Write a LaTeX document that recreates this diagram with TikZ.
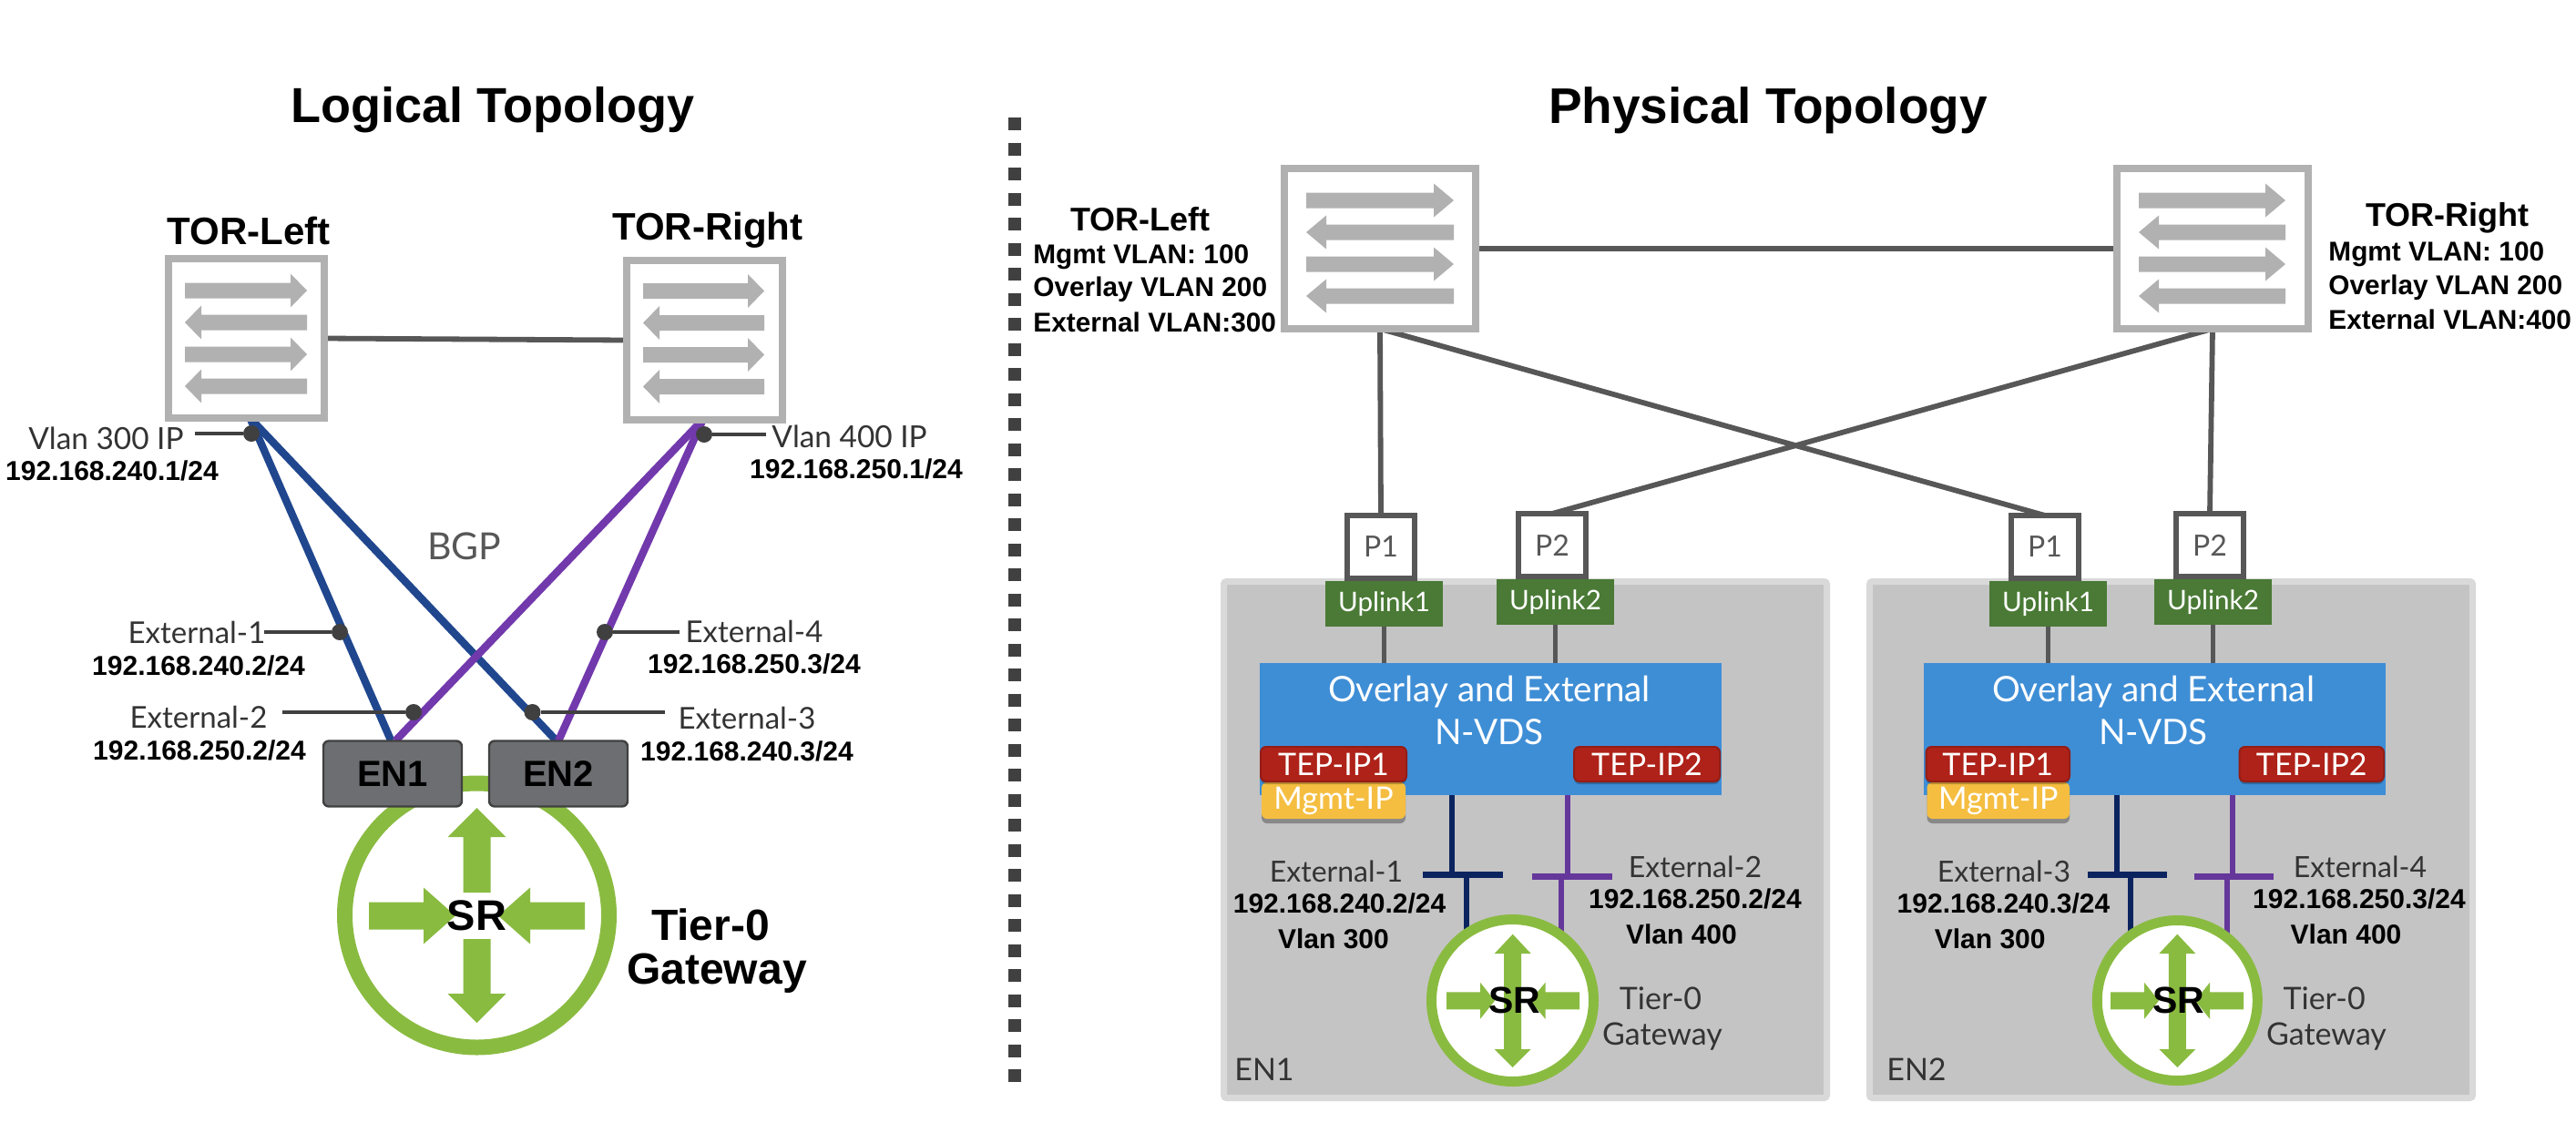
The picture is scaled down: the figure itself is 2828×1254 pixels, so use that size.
\documentclass[tikz,border=0pt]{standalone}
\usepackage{fontspec}
\setmainfont{Lato}
\newfontfamily\arialb{Liberation Sans}[BoldFont={* Bold}]
\usetikzlibrary{shadows}
\pgfdeclarelayer{back}
\pgfdeclarelayer{links}
\pgfsetlayers{back,links,main}
\definecolor{swgrey}{HTML}{B1B1B1}
\definecolor{linkgrey}{HTML}{575757}
\definecolor{dotgrey}{HTML}{404040}
\definecolor{blueln}{HTML}{20478E}
\definecolor{purpleln}{HTML}{7239AC}
\definecolor{navyln}{HTML}{0B2460}
\definecolor{purple2}{HTML}{65379B}
\definecolor{srgreen}{HTML}{8ABB41}
\definecolor{upgreen}{HTML}{4A7A36}
\definecolor{nvdsblue}{HTML}{3E8ED6}
\definecolor{tepred}{HTML}{AE2219}
\definecolor{mgmtyel}{HTML}{F5BE41}
\definecolor{enfill}{HTML}{6D6E72}
\definecolor{boxfill}{HTML}{C4C4C4}
\definecolor{boxedge}{HTML}{D9D9D9}
\definecolor{regtext}{HTML}{333333}
\tikzset{
  bt/.style={inner sep=0pt,font=\arialb\bfseries\fontsize{#1}{#1}\selectfont,text=black},
  rt/.style={inner sep=0pt,font=\fontsize{#1}{#1}\selectfont,text=regtext},
  wt/.style={inner sep=0pt,font=\fontsize{#1}{#1}\selectfont,text=white},
  ip/.style={bt=15},
  sw/.style={rectangle,draw=swgrey,line width=4.2pt,fill=white,inner sep=0pt,outer sep=0pt},
  enbox/.style={rectangle,rounded corners=3pt,draw=dotgrey,line width=1.2pt,fill=enfill,inner sep=0pt,outer sep=0pt,bt=20},
  srring/.style={circle,draw=srgreen,fill=white,inner sep=0pt,outer sep=0pt,drop shadow={shadow xshift=0pt,shadow yshift=-1.5pt,opacity=.25,fill=black}},
  hostbox/.style={rectangle,rounded corners=1.5pt,draw=boxedge,line width=3.5pt,fill=boxfill,inner sep=0pt,outer sep=0pt},
  uplink/.style={rectangle,fill=upgreen,inner sep=0pt,outer sep=0pt,wt=14.8},
  portbox/.style={rectangle,draw=linkgrey,line width=2.9pt,fill=white,inner sep=0pt,outer sep=0pt,rt=16,text=linkgrey},
  nvds/.style={rectangle,fill=nvdsblue,inner sep=0pt,outer sep=0pt},
  tep/.style={rectangle,rounded corners=3pt,draw=tepred!85!black,line width=1pt,fill=tepred,inner sep=0pt,outer sep=0pt,wt=17,drop shadow={shadow xshift=0pt,shadow yshift=-1.5pt,opacity=.25,fill=black}},
  mgmt/.style={rectangle,rounded corners=3pt,fill=mgmtyel,inner sep=0pt,outer sep=0pt,wt=17,drop shadow={shadow xshift=0pt,shadow yshift=-2.5pt,opacity=.3,fill=black}},
  dotnode/.style={circle,fill=dotgrey,inner sep=0pt,outer sep=0pt,minimum size=9pt},
  link/.style={draw=linkgrey,line width=2.9pt},
  stub/.style={draw=dotgrey,line width=2.4pt},
  bluel/.style={draw=blueln,line width=4.2pt},
  purpl/.style={draw=purpleln,line width=4.2pt},
}
% box from corner to corner (picture pixels)
\newcommand{\bx}[6]{\node[#6,minimum width={(#4-#2)*0.5pt},minimum height={(#5-#3)*0.5pt}] (#1) at ({(#2+#4)/2},{(#3+#5)/2})}
\newcommand{\harr}[7][]{\fill[#7] (#2,{#5-#6}) -- (#3,{#5-#6}) -- (#3,{#5-#1}) -- (#4,#5) -- (#3,{#5+#1}) -- (#3,{#5+#6}) -- (#2,{#5+#6}) -- cycle;}
\newcommand{\varr}[7][]{\fill[#7] ({#5-#6},#2) -- ({#5-#6},#3) -- ({#5-#1},#3) -- (#5,#4) -- ({#5+#1},#3) -- ({#5+#6},#3) -- ({#5+#6},#2) -- cycle;}
% four arrows of a switch: x left, x right, head length
\newcommand{\swarrows}[5]{%
  \pgfmathsetmacro{\xa}{#1+#3}\pgfmathsetmacro{\xb}{#2-#3}%
  \harr[18.5]{#1}{\xb}{#2}{#4}{8.5}{swgrey}
  \harr[18.5]{#2}{\xa}{#1}{#4+#5}{8.5}{swgrey}
  \harr[18.5]{#1}{\xb}{#2}{#4+2*#5}{8.5}{swgrey}
  \harr[18.5]{#2}{\xa}{#1}{#4+3*#5}{8.5}{swgrey}
}
\begin{document}
\begin{tikzpicture}[x=0.5pt,y=-0.5pt]
\useasboundingbox (0,0) rectangle (2828,1254);
% ---------------- titles / divider
\node[bt=27] (t1) at (541,121) {Logical Topology};
\node[bt=27.5] (t2) at (1941,121) {Physical Topology};
\coordinate (divtop) at (1114,129);
\coordinate (divbot) at (1114,1188);
\draw[draw=dotgrey,line width=7pt,dash pattern=on 7pt off 6.75pt] (divtop) -- (divbot);
% ---------------- LOGICAL
\node[bt=21] (ltl) at (273,253) {TOR-Left};
\node[bt=21] (ltr) at (777,253) {TOR-Right};
\bx{lsw1}{185}{284}{356}{459}{sw} {};
\bx{lsw2}{688}{286}{859}{461}{sw} {};
\swarrows{203}{337}{18}{319}{35}
\swarrows{706}{839}{18}{319.5}{35}
\begin{pgfonlayer}{links}
\draw[link] (lsw1.east) -- (lsw2.west);
\end{pgfonlayer}
\node[srring,line width=8.5pt,minimum size=145pt] (lsr) at (523.5,1005) {};
\bx{en1}{355}{813.5}{507}{885.5}{enbox} {EN1};
\bx{en2}{537}{813.5}{689}{885.5}{enbox} {EN2};
\varr[32]{980}{919}{887}{523.5}{15}{srgreen}
\varr[32]{1031}{1091}{1123}{523.5}{15}{srgreen}
\harr[31]{405}{465}{500}{1005.5}{15}{srgreen}
\harr[31]{642}{582}{547}{1005.5}{15}{srgreen}
\node[bt=23.5] (lsrt) at (523.5,1005) {SR};
\node[bt=24] (lt0) at (780,1015) {Tier-0};
\node[bt=24] (lgw) at (787,1069) {Gateway};
\node[rt=20.5,text=linkgrey] (bgp) at (510,600) {BGP};
\begin{pgfonlayer}{links}
\draw[bluel] ([xshift=2pt]lsw1.south) -- ([xshift=-0.8pt]en1.north);
\draw[bluel] ([xshift=2pt]lsw1.south) -- ([xshift=-1pt]en2.north);
\draw[purpl] ([xshift=-1pt]lsw2.south) -- ([xshift=1.5pt]en1.north);
\draw[purpl] ([xshift=-1pt]lsw2.south) -- (en2.north);
\end{pgfonlayer}
\node[dotnode] (d1) at (276,476) {};
\node[dotnode] (d2) at (773,477) {};
\node[dotnode] (d3) at (373,694) {};
\node[dotnode] (d4) at (664,694) {};
\node[dotnode] (d5) at (454,782) {};
\node[dotnode] (d6) at (584.5,782) {};
\coordinate (e1) at (214,476);
\coordinate (e2) at (841,477);
\coordinate (e3) at (290,694);
\coordinate (e4) at (746,694);
\coordinate (e5) at (309.5,782);
\coordinate (e6) at (730,782);
\draw[stub] (d1) -- (e1);
\draw[stub] (d2) -- (e2);
\draw[stub] (d3) -- (e3);
\draw[stub] (d4) -- (e4);
\draw[stub] (d5) -- (e5);
\draw[stub] (d6) -- (e6);
\node[rt=16.7] (a1) at (116.5,481) {Vlan 300 IP};
\node[ip] (a2) at (123,517) {192.168.240.1/24};
\node[rt=16.7] (a3) at (932.6,479) {Vlan 400 IP};
\node[ip] (a4) at (940,515) {192.168.250.1/24};
\node[rt=16.5] (a5) at (216,694) {External-1};
\node[ip] (a6) at (218,731) {192.168.240.2/24};
\node[rt=16.5] (a7) at (218,787) {External-2};
\node[ip] (a8) at (219,824) {192.168.250.2/24};
\node[rt=16.5] (a9) at (828,693.6) {External-4};
\node[ip] (a10) at (828,729) {192.168.250.3/24};
\node[rt=16.5] (a11) at (820,788) {External-3};
\node[ip] (a12) at (820,825) {192.168.240.3/24};
% ---------------- PHYSICAL top
\bx{psw1}{1410}{185}{1620}{361}{sw} {};
\bx{psw2}{2324}{185}{2534}{361}{sw} {};
\swarrows{1434}{1596}{22}{220}{35}
\swarrows{2348}{2509}{22}{220}{35}
\node[bt=18] (pl0) at (1252,241) {TOR-Left};
\node[bt=14.9,anchor=west] (pl1) at (1134,282) {Mgmt VLAN: 100};
\node[bt=14.9,anchor=west] (pl2) at (1134,318) {Overlay VLAN 200};
\node[bt=14.9,anchor=west] (pl3) at (1134,354) {External VLAN:300};
\node[bt=18] (pr0) at (2687,239) {TOR-Right};
\node[bt=14.9,anchor=west] (pr1) at (2556,279) {Mgmt VLAN: 100};
\node[bt=14.9,anchor=west] (pr2) at (2556,316) {Overlay VLAN 200};
\node[bt=14.9,anchor=west] (pr3) at (2556,351) {External VLAN:400};
% ---------------- hosts
\begin{pgfonlayer}{back}
\bx{h1}{1343.5}{638.5}{2005.5}{1205.5}{hostbox} {};
\bx{h2}{2052.5}{638.5}{2714.5}{1205.5}{hostbox} {};
\end{pgfonlayer}
\bx{p11}{1479}{566}{1553}{635}{portbox} {P1};
\bx{p12}{1667}{564}{1741}{633}{portbox} {P2};
\bx{p21}{2208}{566}{2282}{635}{portbox} {P1};
\bx{p22}{2389}{564}{2463}{633}{portbox} {P2};
\bx{u11}{1455}{638}{1584}{688}{uplink} {Uplink1};
\bx{u12}{1643}{636}{1772}{686}{uplink} {Uplink2};
\bx{u21}{2184}{638}{2313}{688}{uplink} {Uplink1};
\bx{u22}{2365}{636}{2494}{686}{uplink} {Uplink2};
\bx{n1}{1383}{728}{1890}{873}{nvds} {};
\bx{n2}{2112}{728}{2619}{873}{nvds} {};
\node[wt=19.3] (n1a) at (1635,760) {Overlay and External};
\node[wt=19.3] (n1b) at (1635,804) {N-VDS};
\node[wt=19.3] (n2a) at (2364,760) {Overlay and External};
\node[wt=19.3] (n2b) at (2364,804) {N-VDS};
\bx{m1}{1385}{859}{1543}{899}{mgmt} {Mgmt-IP};
\bx{t11}{1384}{820}{1544}{858}{tep} {TEP-IP1};
\bx{t12}{1728}{820}{1888}{858}{tep} {TEP-IP2};
\bx{m2}{2115.5}{859}{2272}{899}{mgmt} {Mgmt-IP};
\bx{t21}{2114.5}{820}{2272}{858}{tep} {TEP-IP1};
\bx{t22}{2458.5}{820}{2617}{858}{tep} {TEP-IP2};
\node[srring,line width=5.5pt,minimum size=89pt] (s1) at (1660.5,1098.5) {};
\node[srring,line width=5.5pt,minimum size=88pt] (s2) at (2390.3,1098.5) {};
% connector anchors
\coordinate (b11) at (1562,960.6);\coordinate (b12) at (1650,960.6);
\coordinate (b13) at (1682,962);\coordinate (b14) at (1769.5,962);
\coordinate (b21) at (2291.6,960.6);\coordinate (b22) at (2378.6,960.6);
\coordinate (b23) at (2408.6,962);\coordinate (b24) at (2495.6,962);
\coordinate (v11) at (1594,960.6);\coordinate (v12) at (1610,960.6);
\coordinate (v13) at (1721,962);\coordinate (v14) at (1714.4,962);
\coordinate (v21) at (2323.6,960.6);\coordinate (v22) at (2339.4,960.6);
\coordinate (v23) at (2451,962);\coordinate (v24) at (2444.8,962);
\begin{pgfonlayer}{links}
\draw[link] (psw1.east) -- (psw2.west);
\draw[link] (psw1.south) -- (p11.north);
\draw[link] (psw1.south) -- (p21.north);
\draw[link] (psw2.south) -- (p12.north);
\draw[link] (psw2.south) -- (p22.north);
\draw[link] (u11) -- (u11 |- n1.north);
\draw[link] (u12) -- (u12 |- n1.north);
\draw[link] (u21) -- (u21 |- n2.north);
\draw[link] (u22) -- (u22 |- n2.north);
\draw[navyln,line width=3pt] (v11 |- n1.south) -- (v11);
\draw[purple2,line width=3pt] (v13 |- n1.south) -- (v13);
\draw[navyln,line width=3pt] (v21 |- n2.south) -- (v21);
\draw[purple2,line width=3pt] (v23 |- n2.south) -- (v23);
\draw[navyln,line width=3pt] (v12) -- (v12 |- s1.center);
\draw[purple2,line width=3pt] (v14) -- (v14 |- s1.center);
\draw[navyln,line width=3pt] (v22) -- (v22 |- s2.center);
\draw[purple2,line width=3pt] (v24) -- (v24 |- s2.center);
\draw[navyln,line width=3.5pt] (b11) -- (b12);
\draw[purple2,line width=3.5pt] (b13) -- (b14);
\draw[navyln,line width=3.5pt] (b21) -- (b22);
\draw[purple2,line width=3.5pt] (b23) -- (b24);
\end{pgfonlayer}
% SR glyphs physical
\varr[20]{1098}{1047}{1025.7}{1660.7}{9.5}{srgreen}
\varr[20]{1098}{1152}{1172}{1660.7}{9.5}{srgreen}
\harr[20]{1588}{1625}{1641}{1098.8}{9.5}{srgreen}
\harr[20]{1734}{1696.5}{1680}{1098.8}{9.5}{srgreen}
\node[bt=20.5] (s1t) at (1663,1098.7) {SR};
\varr[20]{1098}{1047}{1025.7}{2390.3}{9.5}{srgreen}
\varr[20]{1098}{1152}{1172}{2390.3}{9.5}{srgreen}
\harr[20]{2317}{2354}{2370}{1098.8}{9.5}{srgreen}
\harr[20]{2463}{2426}{2410}{1098.8}{9.5}{srgreen}
\node[bt=20.5] (s2t) at (2392,1098.7) {SR};
% labels physical
\node[rt=16] (x1) at (1467,957) {External-1};
\node[ip] (x2) at (1470.6,992) {192.168.240.2/24};
\node[bt=15] (x3) at (1464,1030.6) {Vlan 300};
\node[rt=16] (x4) at (1861,951.4) {External-2};
\node[ip] (x5) at (1861,987.4) {192.168.250.2/24};
\node[bt=15] (x6) at (1846,1025.7) {Vlan 400};
\node[rt=17] (x7) at (1823,1096) {Tier-0};
\node[rt=17] (x8) at (1825,1138) {Gateway};
\node[rt=17] (x9) at (1388,1174) {EN1};
\node[rt=16] (y1) at (2200,957) {External-3};
\node[ip] (y2) at (2199.5,992) {192.168.240.3/24};
\node[bt=15] (y3) at (2184.7,1030.6) {Vlan 300};
\node[rt=16] (y4) at (2591,951.4) {External-4};
\node[ip] (y5) at (2590,987.4) {192.168.250.3/24};
\node[bt=15] (y6) at (2575.5,1025.7) {Vlan 400};
\node[rt=17] (y7) at (2551.6,1096) {Tier-0};
\node[rt=17] (y8) at (2554,1138) {Gateway};
\node[rt=17] (y9) at (2104,1174) {EN2};
\end{tikzpicture}
\end{document}
